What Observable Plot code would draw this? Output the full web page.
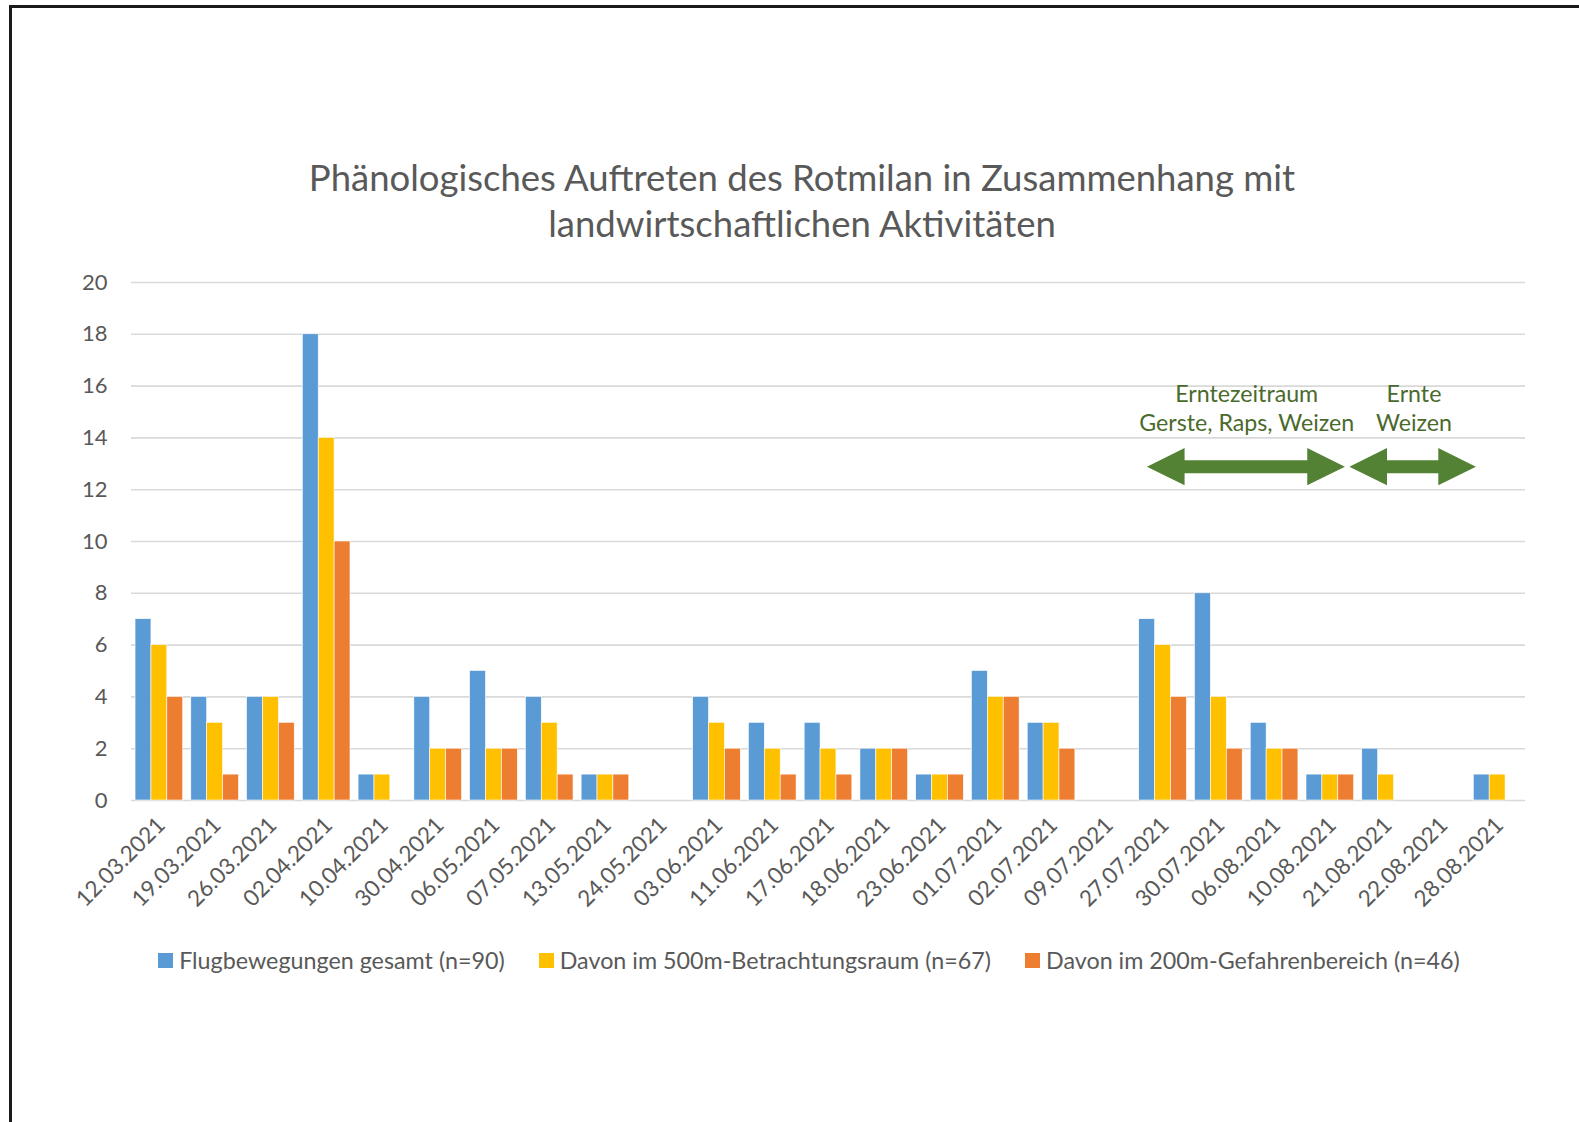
<!DOCTYPE html>
<html>
<head>
<meta charset="utf-8">
<script src="https://cdn.jsdelivr.net/npm/d3@7"></script>
<script src="https://cdn.jsdelivr.net/npm/@observablehq/plot@0.6"></script>
<style>
  html, body { margin: 0; padding: 0; background: #fff; }
  body { width: 1579px; height: 1122px; position: relative; overflow: hidden; font-family: Lato, "Open Sans", sans-serif; }
  #frame { position: absolute; left: 9px; top: 5px; width: 1600px; height: 1200px; border-top: 3px solid #1a1a1a; border-left: 3px solid #1a1a1a; box-sizing: border-box; }
  #title { position: absolute; left: 0; top: 154px; width: 1604px; text-align: center; color: #595959; font-size: 36.5px; line-height: 46px; }
  #chart { position: absolute; left: 0; top: 0; }
  #legend { position: absolute; left: 0; width: 1618px; top: 946px; display: flex; justify-content: center; gap: 34px; color: #595959; font-size: 23.3px; }
  #legend .item { display: flex; align-items: center; gap: 6px; }
  #legend .sw { width: 15px; height: 15px; display: inline-block; }
</style>
</head>
<body>
<div id="frame"></div>
<div id="title">Phänologisches Auftreten des Rotmilan in Zusammenhang mit<br>landwirtschaftlichen Aktivitäten</div>
<div id="chart"></div>
<div id="legend"></div>
<script>
const dates = ["12.03.2021","19.03.2021","26.03.2021","02.04.2021","10.04.2021","30.04.2021","06.05.2021","07.05.2021","13.05.2021","24.05.2021","03.06.2021","11.06.2021","17.06.2021","18.06.2021","23.06.2021","01.07.2021","02.07.2021","09.07.2021","27.07.2021","30.07.2021","06.08.2021","10.08.2021","21.08.2021","22.08.2021","28.08.2021"];
const flugGesamt   = [7,4,4,18,1,4,5,4,1,0,4,3,3,2,1,5,3,0,7,8,3,1,2,0,1];
const betracht500  = [6,3,4,14,1,2,2,3,1,0,3,2,2,2,1,4,3,0,6,4,2,1,1,0,1];
const gefahren200  = [4,1,3,10,0,2,2,1,1,0,2,1,1,2,1,4,2,0,4,2,2,1,0,0,0];
const seriesNames  = ["Flugbewegungen gesamt (n=90)","Davon im 500m-Betrachtungsraum (n=67)","Davon im 200m-Gefahrenbereich (n=46)"];
const seriesColors = ["#5B9BD5","#FFC000","#ED7D31"];
const yTicks = [0,2,4,6,8,10,12,14,16,18,20];
// annotations (x in category units, y in value units)
const annoLines = [
  {x: 20, y: 15.4, text: "Erntezeitraum"},
  {x: 20, y: 14.25, text: "Gerste, Raps, Weizen"},
  {x: 23, y: 15.4, text: "Ernte"},
  {x: 23, y: 14.25, text: "Weizen"}
];
const arrowSpans = [{from: 18.22, to: 21.77}, {from: 21.85, to: 24.12}];
const arrowY = 12.87;

const series = [flugGesamt, betracht500, gefahren200];
const outer = 0.0725, bw = 0.285;
const rows = dates.flatMap((d, i) => series.map((arr, j) => ({i, j, value: arr[i], color: seriesColors[j]})));

const headLen = 0.675, headHalf = 0.72, shaftHalf = 0.25;
const arrowPts = arrowSpans.flatMap((s, k) => [
  {id: k, x: s.from, y1: arrowY, y2: arrowY},
  {id: k, x: s.from + headLen, y1: arrowY - headHalf, y2: arrowY + headHalf},
  {id: k, x: s.from + headLen, y1: arrowY - shaftHalf, y2: arrowY + shaftHalf},
  {id: k, x: s.to - headLen, y1: arrowY - shaftHalf, y2: arrowY + shaftHalf},
  {id: k, x: s.to - headLen, y1: arrowY - headHalf, y2: arrowY + headHalf},
  {id: k, x: s.to, y1: arrowY, y2: arrowY}
]);

const plot = Plot.plot({
  width: 1579,
  height: 930,
  marginLeft: 131,
  marginRight: 54,
  marginTop: 282,
  marginBottom: 130,
  style: {fontFamily: "Lato, 'Open Sans', sans-serif", background: "transparent", overflow: "visible"},
  x: {domain: [0, dates.length], axis: null},
  y: {domain: [0, 20], axis: null},
  color: {type: "identity"},
  marks: [
    Plot.ruleY(yTicks, {stroke: "#d9d9d9", strokeWidth: 1.6}),
    Plot.rectY(rows, {
      x1: d => d.i + outer + d.j * bw,
      x2: d => d.i + outer + (d.j + 1) * bw,
      y1: 0,
      y2: "value",
      fill: "color",
      stroke: "#fff",
      strokeWidth: 0.6
    }),
    Plot.axisY(yTicks, {tickSize: 0, tickPadding: 24, fontSize: 22, fill: "#595959", textAnchor: "end", label: null}),
    Plot.axisX(dates.map((d, i) => i + 0.5), {
      tickFormat: v => dates[Math.floor(v)],
      tickRotate: -45, tickSize: 0, tickPadding: 21, fontSize: 22.5, fill: "#595959", label: null, dx: 2
    }),
    Plot.areaY(arrowPts, {x: "x", y1: "y1", y2: "y2", z: "id", fill: "#548235", curve: "linear"}),
    Plot.text(annoLines, {x: "x", y: "y", text: "text", fill: "#4a6a2c", fontSize: 23.2, textAnchor: "middle", lineAnchor: "bottom"})
  ]
});
document.getElementById("chart").appendChild(plot);

const legend = document.getElementById("legend");
seriesNames.forEach((name, j) => {
  const item = document.createElement("div");
  item.className = "item";
  const sw = document.createElement("span");
  sw.className = "sw";
  sw.style.background = seriesColors[j];
  const t = document.createElement("span");
  t.textContent = name;
  item.appendChild(sw); item.appendChild(t);
  legend.appendChild(item);
});
</script>
</body>
</html>
